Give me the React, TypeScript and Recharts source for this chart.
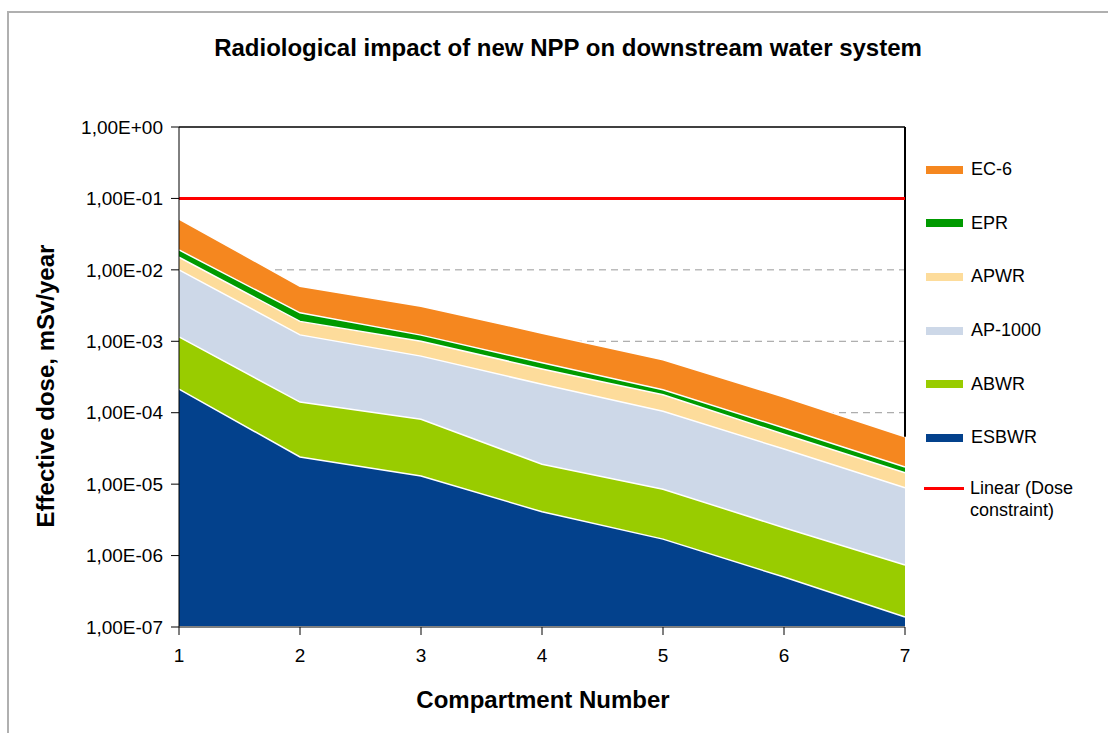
import React from 'react'
import { ComposedChart, Area, Line, XAxis, YAxis, CartesianGrid, ReferenceLine } from 'recharts'

const compartments = [1, 2, 3, 4, 5, 6, 7]
const ec6 = [5.15e-2, 5.9e-3, 3.1e-3, 1.3e-3, 5.5e-4, 1.66e-4, 4.6e-5]
const epr = [1.9e-2, 2.5e-3, 1.22e-3, 5.0e-4, 2.1e-4, 6.1e-5, 1.74e-5]
const apwr = [1.5e-2, 1.9e-3, 1.0e-3, 4.1e-4, 1.78e-4, 5.0e-5, 1.44e-5]
const ap1000 = [1.0e-2, 1.23e-3, 6.2e-4, 2.5e-4, 1.05e-4, 3.1e-5, 8.9e-6]
const abwr = [1.15e-3, 1.41e-4, 8.1e-5, 1.9e-5, 8.5e-6, 2.45e-6, 7.4e-7]
const esbwr = [2.14e-4, 2.4e-5, 1.3e-5, 4.1e-6, 1.7e-6, 5.0e-7, 1.38e-7]
const doseConstraint = 0.1
const yTicks = [1, 1e-1, 1e-2, 1e-3, 1e-4, 1e-5, 1e-6, 1e-7]

const series = [
  { key: 'ec6', name: 'EC-6', color: '#F5871F' },
  { key: 'epr', name: 'EPR', color: '#009A00' },
  { key: 'apwr', name: 'APWR', color: '#FDDC9B' },
  { key: 'ap1000', name: 'AP-1000', color: '#CDD8E8' },
  { key: 'abwr', name: 'ABWR', color: '#99CC00' },
  { key: 'esbwr', name: 'ESBWR', color: '#03418C' },
]

const data = compartments.map((c, i) => ({
  compartment: c,
  ec6: ec6[i],
  epr: epr[i],
  apwr: apwr[i],
  ap1000: ap1000[i],
  abwr: abwr[i],
  esbwr: esbwr[i],
  dose: doseConstraint,
}))

const font = '"Liberation Sans", Arial, sans-serif'

const formatSci = (v: number) => {
  const exp = Math.round(Math.log10(v))
  const sign = exp < 0 ? '-' : '+'
  return '1,00E' + sign + String(Math.abs(exp)).padStart(2, '0')
}

// legend drawn by hand so it doesn't eat into the plot area
const ChartLegend = () => (
  <div style={{ position: 'absolute', left: 926, top: 143, fontFamily: font, fontSize: 18, color: '#000' }}>
    {series.map((s) => (
      <div key={s.key} style={{ display: 'flex', alignItems: 'center', height: 53.6 }}>
        <span style={{ display: 'inline-block', width: 37, height: 8, background: s.color, marginRight: 8 }} />
        <span>{s.name}</span>
      </div>
    ))}
    <div style={{ display: 'flex', alignItems: 'flex-start', marginTop: 12 }}>
      <span style={{ display: 'inline-block', width: 40, height: 3, background: '#FF0000', marginRight: 6, marginTop: 10, marginLeft: -2 }} />
      <span style={{ lineHeight: '22px' }}>Linear (Dose<br />constraint)</span>
    </div>
  </div>
)

export default function App() {
  return (
    <div style={{ position: 'absolute', left: 0, top: 0, width: 1108, height: 733, background: '#fff', overflow: 'hidden' }}>
      <div style={{ position: 'absolute', left: 7, top: 11, width: 1200, height: 800, borderLeft: '2px solid #b0b0b0', borderTop: '2px solid #b0b0b0' }} />
      <div style={{ position: 'absolute', left: 0, top: 34, width: 1136, textAlign: 'center', fontFamily: font, fontWeight: 'bold', fontSize: 24 }}>
        Radiological impact of new NPP on downstream water system
      </div>
      <div style={{ position: 'absolute', left: 0, top: 686, width: 1086, textAlign: 'center', fontFamily: font, fontWeight: 'bold', fontSize: 24 }}>
        Compartment Number
      </div>
      <div style={{ position: 'absolute', left: 46, top: 386, width: 0, height: 0 }}>
        <div style={{ position: 'absolute', left: -150, top: -14, width: 300, textAlign: 'center', transform: 'rotate(-90deg)', fontFamily: font, fontWeight: 'bold', fontSize: 24, whiteSpace: 'nowrap' }}>
          Effective dose, mSv/year
        </div>
      </div>
      <ComposedChart
        width={1108}
        height={733}
        data={data}
        margin={{ top: 127, right: 203, bottom: 76, left: 79 }}
        style={{ position: 'absolute', left: 0, top: 0 }}
      >
        <CartesianGrid vertical={false} horizontalValues={yTicks.slice(1)} stroke="#999" strokeDasharray="7 5" />
        <XAxis
          dataKey="compartment"
          type="number"
          domain={[1, 7]}
          ticks={compartments}
          height={30}
          stroke="#808080"
          strokeWidth={2}
          tickSize={8}
          tickMargin={14}
          tick={{ fill: '#000', fontSize: 19, fontFamily: font }}
          tickLine={{ stroke: '#000', strokeWidth: 1 }}
        />
        <YAxis
          scale="log"
          domain={[1e-7, 1]}
          ticks={yTicks}
          width={100}
          allowDataOverflow
          stroke="#000"
          tickSize={8}
          tickMargin={8}
          tickFormatter={formatSci}
          tick={{ fill: '#000', fontSize: 19, fontFamily: font }}
        />
        <ReferenceLine y={1} stroke="#000" strokeWidth={1.5} ifOverflow="visible" />
        <ReferenceLine segment={[{ x: 7, y: 1 }, { x: 7, y: ec6[ec6.length - 1] }]} stroke="#000" strokeWidth={2} />
        {series.map((s) => (
          <Area
            key={s.key}
            dataKey={s.key}
            name={s.name}
            type="linear"
            baseValue={1e-7}
            fill={s.color}
            fillOpacity={1}
            stroke="#fff"
            strokeWidth={1.5}
            isAnimationActive={false}
          />
        ))}
        <Line
          dataKey="dose"
          name="Linear (Dose constraint)"
          type="linear"
          stroke="#FF0000"
          strokeWidth={3}
          dot={false}
          isAnimationActive={false}
        />
      </ComposedChart>
      <ChartLegend />
    </div>
  )
}
